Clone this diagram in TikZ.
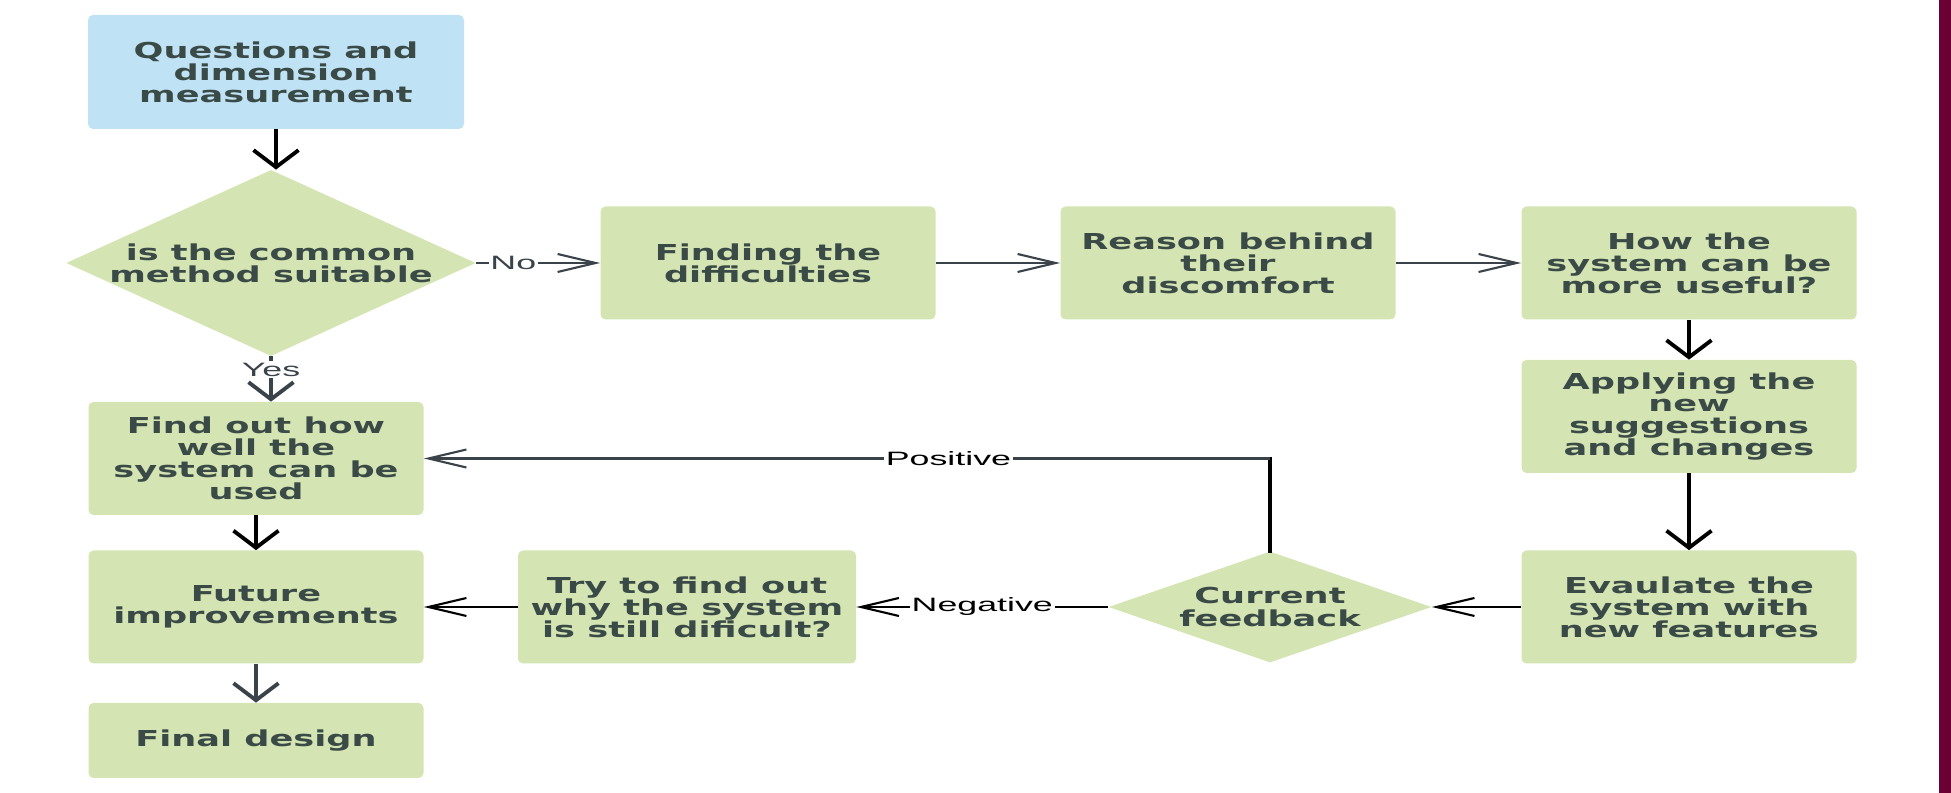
\documentclass[tikz,border=0pt]{standalone}
\usepackage{fontspec}
\usetikzlibrary{shapes.geometric, arrows.meta}
\newfontfamily\boxfont{DejaVu Sans}[FakeStretch=1.6]
\newfontfamily\labelfont{Liberation Sans}[FakeStretch=1.85]
\definecolor{boxgreen}{HTML}{D4E4B3}
\definecolor{boxblue}{HTML}{C0E2F5}
\definecolor{boxtext}{HTML}{3A4A46}
\definecolor{linegray}{HTML}{3A424A}
\definecolor{barmaroon}{HTML}{6A0034}

\begin{document}
\begin{tikzpicture}[
    box/.style={rectangle, minimum width=6.7cm, minimum height=2.26cm, align=center, fill=boxgreen, rounded corners=1mm, text=boxtext, inner sep=0pt, font=\boxfont\bfseries\fontsize{12.5}{12.6}\selectfont},
    decision/.style={diamond, align=center, fill=boxgreen, text=boxtext, inner sep=0pt, font=\boxfont\bfseries\fontsize{12.5}{12.6}\selectfont},
    varrow/.style={-{Straight Barb[length=3.4mm, width=9mm, line width=2.2pt]}, line width=2.2pt},
    harrow/.style={-{Straight Barb[length=7.6mm, width=3.6mm, line width=1.2pt]}, line width=1.2pt, draw=linegray},
    edgelabel/.style={fill=white, inner sep=1pt, font=\labelfont\fontsize{11}{12}\selectfont}
]
\useasboundingbox (0,0) rectangle (39.02,-15.86);

% Nodes
\node[box, fill=boxblue, minimum width=7.52cm, minimum height=2.28cm] (quest) at (5.52, -1.44) {Questions and\\dimension\\measurement};
\node[decision, minimum width=8.16cm, minimum height=3.68cm, aspect=2.2] (suitable) at (5.42, -5.26) {is the common\\method suitable};
\node[box] (finding) at (15.36, -5.26) {Finding the\\difficulties};
\node[box] (reason) at (24.56, -5.26) {Reason behind\\their\\discomfort};
\node[box] (useful) at (33.78, -5.26) {How the\\system can be\\more useful?};
\node[box] (apply) at (33.78, -8.33) {Applying the\\new\\suggestions\\and changes};
\node[box] (evaluate) at (33.78, -12.14) {Evaulate the\\system with\\new features};
\node[decision, minimum width=6.46cm, minimum height=2.22cm, aspect=2.9] (feedback) at (25.40, -12.14) {Current\\feedback};
\node[box, minimum width=6.76cm] (tryfind) at (13.74, -12.14) {Try to find out\\why the system\\is still dificult?};
\node[box] (findout) at (5.12, -9.17) {Find out how\\well the\\system can be\\used};
\node[box] (future) at (5.12, -12.14) {Future\\improvements};
\node[box, minimum height=1.5cm] (final) at (5.12, -14.81) {Final design};

% side bar
\fill[barmaroon] (38.78, 0) rectangle (39.02, -15.86);

% Arrows
\draw[varrow] (quest) -- (quest |- suitable.north);
\draw[harrow] (suitable) -- node[edgelabel, text=linegray, pos=0.3] {No} (finding);
\draw[harrow] (finding) -- (reason);
\draw[harrow] (reason) -- (useful);
\draw[varrow] (useful) -- (apply);
\draw[varrow] (apply) -- (evaluate);
\draw[harrow, draw=black] (evaluate) -- (feedback);
\draw[harrow, draw=black] (feedback) -- node[edgelabel] {Negative} (tryfind);
\draw[harrow, draw=black] (tryfind) -- (future);
\coordinate (turn) at (feedback.north |- findout.east);
\draw[line width=1.8pt, line cap=rect] (feedback.north) -- (turn);
\draw[harrow] (turn) -- node[edgelabel, pos=0.38] {Positive} (findout);
\draw[varrow, draw=linegray] (suitable.south) -- node[edgelabel, text=linegray, pos=0.3] {Yes} (suitable.south |- findout.north);
\draw[varrow] (findout) -- (future);
\draw[varrow, draw=linegray] (future) -- (final);
\end{tikzpicture}
\end{document}
